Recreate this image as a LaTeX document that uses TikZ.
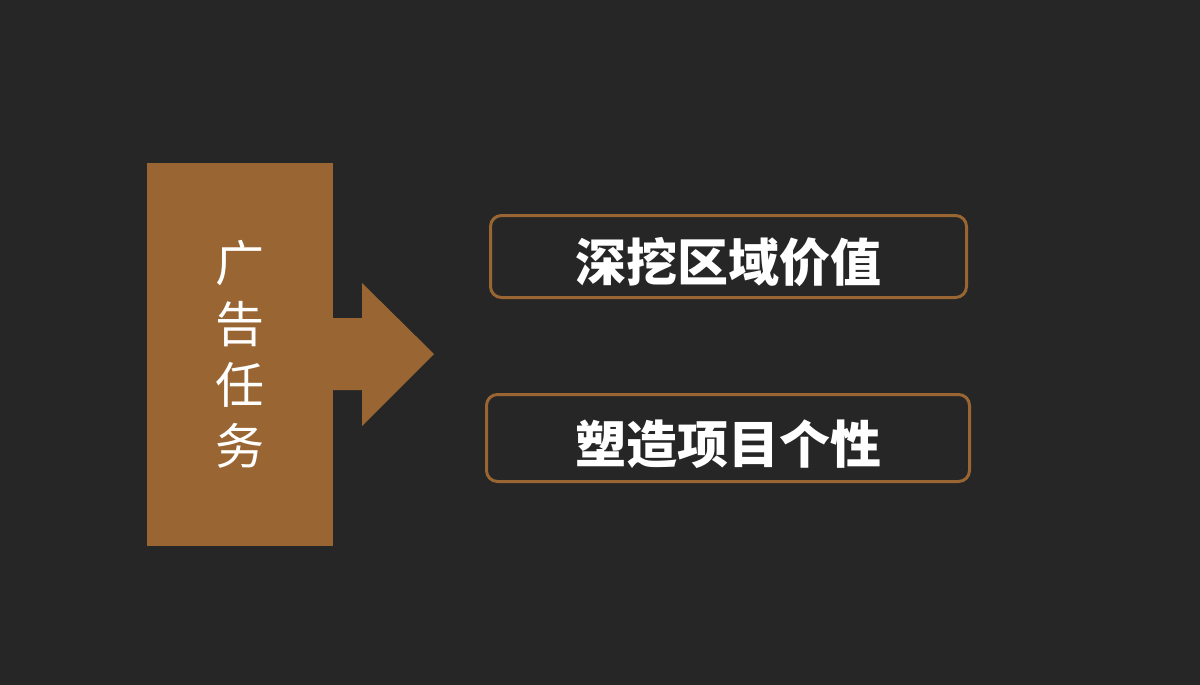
\documentclass[tikz,border=0pt]{standalone}
\usepackage{fontspec}
\usepackage{xcolor}
\usepackage{tikz}
\newfontfamily\cjk{Noto Sans CJK SC}
\definecolor{bgdark}{HTML}{262626}
\definecolor{taskbrown}{HTML}{996633}
\tikzstyle{taskbar}=[fill=taskbrown,minimum width=186pt,minimum height=383pt,inner sep=0pt,
  text=white,align=center,font=\cjk\fontsize{49}{61}\selectfont]
\tikzstyle{goal}=[draw=taskbrown,line width=3pt,rounded corners=11pt,inner sep=0pt,
  text height=56pt,text depth=6pt,
  text=white,font=\cjk\bfseries\fontsize{51}{51}\selectfont]

\begin{document}
\begin{tikzpicture}[x=1pt,y=-1pt]
	\fill[bgdark] (0,0) rectangle (1200,685);
	\node[taskbar] (T) at (240,354.5) {广\\告\\任\\务};
	\fill[taskbrown] (332,318) -- (362,318) -- (362,283) -- (434,354) -- (362,426) -- (362,390) -- (332,390) -- cycle;
	\node[goal,minimum width=476pt,minimum height=82pt] (G1) at (728.5,256.5) {深挖区域价值};
	\node[goal,minimum width=483pt,minimum height=87pt] (G2) at (728,438) {塑造项目个性};
\end{tikzpicture}
\end{document}
